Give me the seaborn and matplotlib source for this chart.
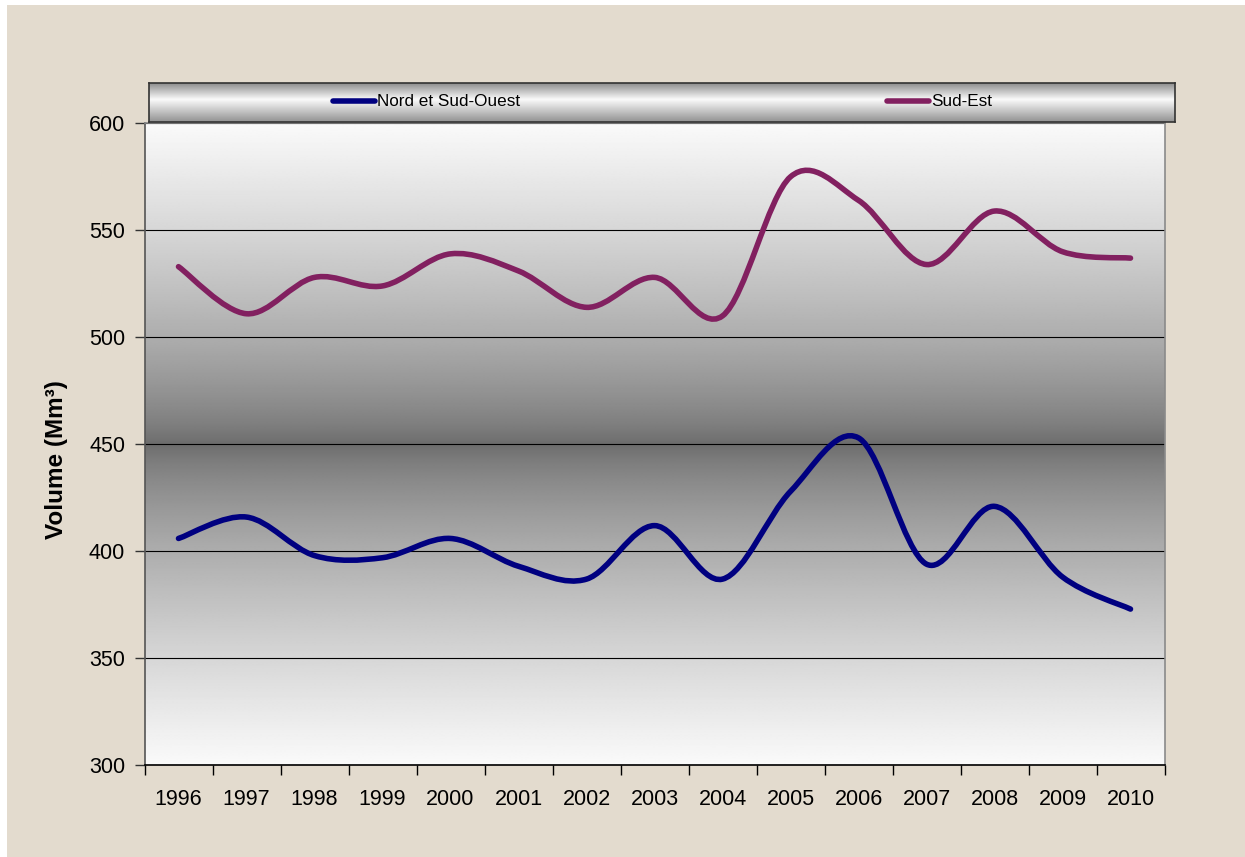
import numpy as np
import pandas as pd
import matplotlib
matplotlib.use("Agg")
import matplotlib.pyplot as plt
from matplotlib.path import Path
from matplotlib.patches import PathPatch, Rectangle
from matplotlib.lines import Line2D
import seaborn as sns

# Annual volumes (Mm³) per zone
years = [str(y) for y in range(1996, 2011)]
nord_sud_ouest = [406, 416, 398, 397, 406, 393, 387, 412, 387, 428, 453, 394, 421, 388, 373]
sud_est = [533, 511, 528, 524, 539, 531, 514, 528, 510, 575, 564, 534, 559, 540, 537]
zones = ["Nord et Sud-Ouest", "Sud-Est"]
zone_colors = ["#000080", "#822060"]
y_ticks = [300, 350, 400, 450, 500, 550, 600]

sns.set_theme(style="white")
plt.rcParams["font.family"] = ["Liberation Sans", "DejaVu Sans"]

df = pd.DataFrame({
    "pos": list(range(len(years))) * 2,
    "Volume": nord_sud_ouest + sud_est,
    "Zone": [zones[0]] * len(years) + [zones[1]] * len(years),
})

W, H = 1245, 857
fig = plt.figure(figsize=(W / 100, H / 100), dpi=100, facecolor="white")
fig.patches.append(Rectangle((7 / W, 0), 1.0, 1 - 5 / H, transform=fig.transFigure,
                             facecolor="#e3dbce", edgecolor="none", zorder=-10))


def fig_box(x0, y0, x1, y1):
    return [x0 / W, 1 - y1 / H, (x1 - x0) / W, (y1 - y0) / H]


ax = fig.add_axes(fig_box(144.5, 123.3, 1164.5, 765.3))

# Plot-area fill: light at the edges, dark around the middle
v = np.linspace(300, 600, 601)
d = np.abs(v - 450) / 150
shade = (106 + 144 * d ** 0.7) / 255
ax.imshow(np.repeat(shade[:, None], 2, axis=1), cmap="gray", vmin=0, vmax=1,
          extent=(-0.5, 14.5, 300, 600), origin="lower", aspect="auto",
          interpolation="bilinear", zorder=0)

LW = 4.0
sns.lineplot(data=df, x="pos", y="Volume", hue="Zone", hue_order=zones,
             palette=zone_colors, linewidth=LW, legend=False, ax=ax, sort=False)


def smooth_path(x, y):
    """Bezier path through the points, with Catmull-Rom style tangents."""
    pts = np.column_stack([x, y]).astype(float)
    n = len(pts)
    verts = [pts[0]]
    codes = [Path.MOVETO]
    for i in range(n - 1):
        p0 = pts[max(i - 1, 0)]
        p1 = pts[i]
        p2 = pts[i + 1]
        p3 = pts[min(i + 2, n - 1)]
        c1 = p1 + (p2 - p0) / 6
        c2 = p2 - (p3 - p1) / 6
        verts += [c1, c2, p2]
        codes += [Path.CURVE4] * 3
    return Path(verts, codes)


for line in list(ax.lines):
    xs, ys = line.get_xdata(), line.get_ydata()
    ax.add_patch(PathPatch(smooth_path(xs, ys), facecolor="none",
                           edgecolor=line.get_color(), linewidth=LW,
                           capstyle="round", joinstyle="round", zorder=4))
    line.set_visible(False)

ax.set_xlim(-0.5, 14.5)
ax.set_ylim(300, 600)
ax.set_axisbelow(True)
ax.set_yticks(y_ticks)
ax.grid(axis="y", color="black", linewidth=0.8)
ax.grid(axis="x", visible=False)

ax.set_xticks(range(len(years)))
ax.set_xticklabels(years)
ax.set_xticks(np.arange(-0.5, len(years), 1), minor=True)
ax.tick_params(axis="x", which="major", length=0, pad=17, labelsize=15.5, labelcolor="black")
ax.tick_params(axis="x", which="minor", length=7, width=1, color="black", direction="out", bottom=True)
ax.tick_params(axis="y", length=7, width=1, color="#333333", direction="out", left=True,
               pad=7, labelsize=15.5, labelcolor="black")
ax.set_xlabel("")
ax.set_ylabel("")

for side, col in [("left", "#555555"), ("bottom", "black"), ("top", "#8a8a8a"), ("right", "#8a8a8a")]:
    ax.spines[side].set_visible(True)
    ax.spines[side].set_color(col)
    ax.spines[side].set_linewidth(1.2)

fig.text(56 / W, 1 - 460 / H, "Volume (Mm³)", rotation=90, fontsize=17.5,
         fontweight="bold", ha="center", va="center", color="black")

# Legend band across the top of the plot
lax = fig.add_axes(fig_box(149, 83, 1175, 121.7))
t = np.linspace(0, 1, 200)
band = np.interp(t, [0, 0.42, 1], [0.55, 0.98, 0.57])
lax.imshow(band[:, None].repeat(2, axis=1), cmap="gray", vmin=0, vmax=1,
           extent=(149, 1175, 121.7, 83), aspect="auto", interpolation="bilinear", zorder=0)
lax.set_xlim(149, 1175)
lax.set_ylim(121.7, 83)
lax.set_xticks([])
lax.set_yticks([])
for s in lax.spines.values():
    s.set_color("#333333")
    s.set_linewidth(1.2)

for (x0, x1), name, col in zip([(333, 375), (887, 929)], zones, zone_colors):
    lax.add_line(Line2D([x0, x1], [100.5, 100.5], color=col, linewidth=LW,
                        solid_capstyle="round", zorder=3))
    lax.text(x1 + 2, 101, name, fontsize=12.3, ha="left", va="center", color="black", zorder=3)

fig.savefig("out.png", dpi=100, facecolor=fig.get_facecolor())
